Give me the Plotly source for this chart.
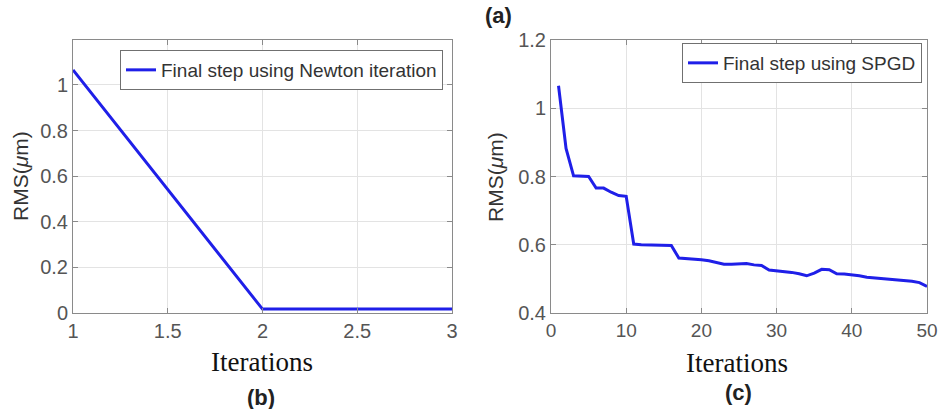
import plotly.graph_objects as go

# Panel (b): Newton iteration
newton_iter = [1, 2, 3]
newton_rms = [1.066, 0.017, 0.017]

# Panel (c): SPGD
spgd_iter = list(range(1, 51))
spgd_rms = [1.066, 0.882, 0.802, 0.801, 0.800, 0.766, 0.766, 0.754, 0.744, 0.742,
            0.602, 0.600, 0.600, 0.599, 0.598, 0.598, 0.561, 0.560, 0.558, 0.556,
            0.553, 0.547, 0.543, 0.543, 0.543, 0.545, 0.541, 0.539, 0.526, 0.524,
            0.521, 0.519, 0.515, 0.509, 0.517, 0.528, 0.527, 0.515, 0.514, 0.512,
            0.509, 0.505, 0.503, 0.501, 0.499, 0.496, 0.496, 0.493, 0.489, 0.478]

b_xticks = [1, 1.5, 2, 2.5, 3]
b_yticks = [0, 0.2, 0.4, 0.6, 0.8, 1]
c_xticks = [0, 10, 20, 30, 40, 50]
c_yticks = [0.4, 0.6, 0.8, 1.0, 1.2]

W, H = 939, 409
LINE = "#1f1fe8"
AX = "#8a8a8a"
TICKC = "#555555"
GRID = "#e3e3e3"

fig = go.Figure()
fig.add_trace(go.Scatter(x=newton_iter, y=newton_rms, mode="lines",
                         line=dict(color=LINE, width=3),
                         name="Final step using Newton iteration",
                         xaxis="x", yaxis="y", legend="legend"))
fig.add_trace(go.Scatter(x=spgd_iter, y=spgd_rms, mode="lines",
                         line=dict(color=LINE, width=3),
                         name="Final step using SPGD",
                         xaxis="x2", yaxis="y2", legend="legend2"))

def px_x(p):
    return p / W

def px_y(p):
    return 1 - p / H

axis_common = dict(showline=True, linecolor=AX, linewidth=1, mirror="ticks",
                   ticks="inside", ticklen=5, tickcolor=AX,
                   showgrid=True, gridcolor=GRID, gridwidth=1,
                   zeroline=False, automargin=False, ticklabeloverflow="allow",
                   tickfont=dict(family="Liberation Sans, Arial", size=20, color=TICKC))

fig.update_layout(
    width=W, height=H,
    margin=dict(l=0, r=0, t=0, b=0, autoexpand=False),
    paper_bgcolor="white", plot_bgcolor="white",
    xaxis=dict(domain=[px_x(73), px_x(452)], range=[1, 3], tickvals=b_xticks,
               ticktext=["1", "1.5", "2", "2.5", "3"], anchor="y", **axis_common),
    yaxis=dict(domain=[px_y(313), px_y(40)], range=[0, 1.197], tickvals=b_yticks,
               ticktext=["0", "0.2", "0.4", "0.6", "0.8", "1"], anchor="x", **axis_common),
    xaxis2=dict(domain=[px_x(551), px_x(927)], range=[0, 50], tickvals=c_xticks,
                anchor="y2", **axis_common),
    yaxis2=dict(domain=[px_y(313), px_y(40)], range=[0.4, 1.2], tickvals=c_yticks,
                ticktext=["0.4", "0.6", "0.8", "1", "1.2"], anchor="x2", **axis_common),
    legend=dict(x=px_x(443), y=px_y(50), xanchor="right", yanchor="top",
                bgcolor="white", bordercolor="#707070", borderwidth=1,
                font=dict(family="Liberation Sans, Arial", size=19, color="#333333"),
                itemwidth=30, tracegroupgap=0),
    legend2=dict(x=px_x(922), y=px_y(43), xanchor="right", yanchor="top",
                 bgcolor="white", bordercolor="#707070", borderwidth=1,
                 font=dict(family="Liberation Sans, Arial", size=19, color="#333333"),
                 itemwidth=30, tracegroupgap=0),
    showlegend=True,
)
fig.update_xaxes(selector=dict(anchor="y2"), tickfont=dict(size=19))

ann_font_serif = dict(family="Liberation Serif, Times New Roman", size=27, color="#111111")
ann_font_lab = dict(family="Liberation Sans, Arial", size=21, color="#333333")
ann_font_bold = dict(family="Liberation Sans, Arial", size=22, color="#222222")

annotations = [
    dict(text="Iterations", x=px_x(262), y=px_y(362), font=ann_font_serif),
    dict(text="Iterations", x=px_x(737), y=px_y(363), font=ann_font_serif),
    dict(text="<b>(b)</b>", x=px_x(261), y=px_y(397), font=ann_font_bold),
    dict(text="<b>(c)</b>", x=px_x(738), y=px_y(392), font=ann_font_bold),
    dict(text="<b>(a)</b>", x=px_x(498), y=px_y(15), font=ann_font_bold),
    dict(text="RMS(<i>μ</i>m)", x=px_x(20), y=px_y(176), textangle=-90, font=ann_font_lab),
    dict(text="RMS(<i>μ</i>m)", x=px_x(495), y=px_y(177), textangle=-90, font=ann_font_lab),
]
for a in annotations:
    a.update(xref="paper", yref="paper", showarrow=False, xanchor="center", yanchor="middle")
fig.update_layout(annotations=annotations)

fig.write_html("out.html", config={"displayModeBar": False},
               post_script="document.body.style.margin='0px';document.body.style.overflow='hidden';")
